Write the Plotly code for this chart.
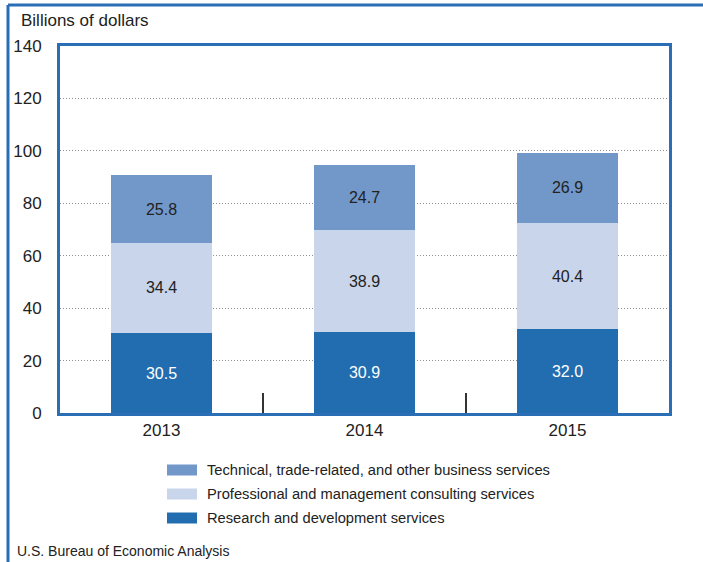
import plotly.graph_objects as go

years = ["2013", "2014", "2015"]
research = [30.5, 30.9, 32.0]
professional = [34.4, 38.9, 40.4]
technical = [25.8, 24.7, 26.9]
series_names = [
    "Research and development services",
    "Professional and management consulting services",
    "Technical, trade-related, and other business services",
]
series_values = [research, professional, technical]
colors = ["#216db0", "#c9d5eb", "#7298ca"]
label_colors = ["#ffffff", "#222222", "#222222"]
y_ticks = [0, 20, 40, 60, 80, 100, 120, 140]

FONT = "Liberation Sans, Arial, sans-serif"
BLUE = "#2a6fb5"

fig = go.Figure()
for name, vals, col, lc in zip(series_names, series_values, colors, label_colors):
    fig.add_trace(go.Bar(
        x=years, y=vals, name=name,
        marker=dict(color=col, line=dict(width=0)),
        text=[f"{v:.1f}" for v in vals],
        textposition="inside", insidetextanchor="middle",
        textfont=dict(family=FONT, size=16, color=lc),
        constraintext="none",
        width=0.5, showlegend=False,
    ))

W, H = 703, 562
L, R, T, B = 60, 34, 46, 149
pw, ph = W - L - R, H - T - B

def px(x):
    return (x - L) / pw

def py(y):
    return (H - B - y) / ph

shapes = []
annotations = []
# outer frame (top and left edges visible)
shapes.append(dict(type="line", xref="paper", yref="paper", x0=px(8), x1=px(720),
                   y0=py(5), y1=py(5), line=dict(color=BLUE, width=3)))
shapes.append(dict(type="line", xref="paper", yref="paper", x0=px(8), x1=px(8),
                   y0=py(5), y1=py(580), line=dict(color=BLUE, width=3)))

# manual legend (top to bottom: technical, professional, research)
rows_y = [470, 494, 518]
for i, idx in enumerate([2, 1, 0]):
    yc = rows_y[i]
    shapes.append(dict(type="rect", xref="paper", yref="paper",
                       x0=px(167), x1=px(197), y0=py(yc + 5.5), y1=py(yc - 5.5),
                       fillcolor=colors[idx], line=dict(width=0)))
    annotations.append(dict(text=series_names[idx], xref="paper", yref="paper",
                            x=px(205), y=py(yc), xanchor="left", yanchor="middle",
                            showarrow=False, font=dict(family=FONT, size=14.7, color="#222222")))

annotations.append(dict(text="Billions of dollars", xref="paper", yref="paper",
                        x=px(19), y=py(20), xanchor="left", yanchor="middle",
                        showarrow=False, font=dict(family=FONT, size=17, color="#222222")))
annotations.append(dict(text="U.S. Bureau of Economic Analysis", xref="paper", yref="paper",
                        x=px(15), y=py(551), xanchor="left", yanchor="middle",
                        showarrow=False, font=dict(family=FONT, size=14, color="#222222")))

fig.update_layout(
    width=W, height=H,
    margin=dict(l=L, r=R, t=T, b=B, pad=0),
    paper_bgcolor="white", plot_bgcolor="white",
    barmode="stack",
    showlegend=False,
    shapes=shapes,
    annotations=annotations,
    font=dict(family=FONT, color="#222222"),
)
fig.update_xaxes(
    type="category", range=[-0.5, 2.5],
    showline=True, linecolor=BLUE, linewidth=3, mirror=True,
    tickson="boundaries", ticks="inside", ticklen=20, tickwidth=1.5, tickcolor="#333333",
    tickfont=dict(family=FONT, size=17, color="#222222"),
    ticklabelstandoff=0,
    showgrid=False,
)
fig.update_yaxes(
    range=[0, 140], tickvals=y_ticks,
    showline=True, linecolor=BLUE, linewidth=3, mirror=True,
    showgrid=True, gridcolor="#8f8f8f", gridwidth=1, griddash="1px,2px",
    zeroline=False, ticks="",
    tickfont=dict(family=FONT, size=17, color="#222222"),
    ticklabelstandoff=12,
)

fig.write_html("out.html", config={"displayModeBar": False},
               post_script="document.body.style.margin='0';document.body.style.overflow='hidden';")
